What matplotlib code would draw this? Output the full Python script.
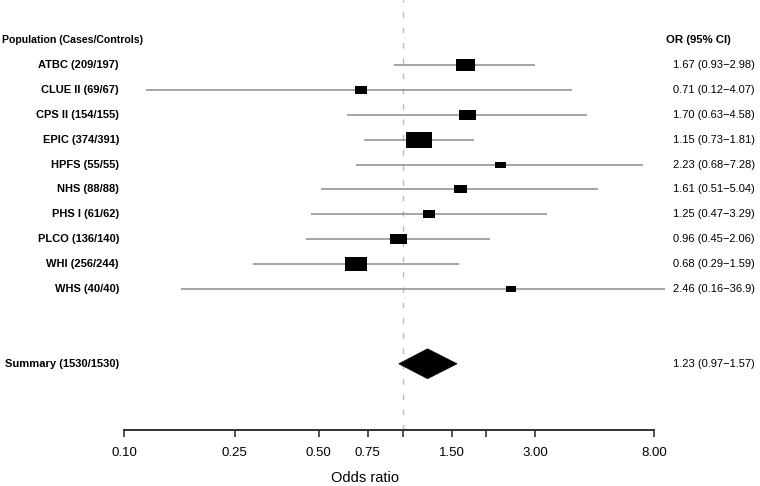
import numpy as np
import matplotlib
matplotlib.use('Agg')
import matplotlib.pyplot as plt
from matplotlib.path import Path
from matplotlib.patches import Polygon
from matplotlib.transforms import blended_transform_factory

plt.rcParams['font.family'] = ['Liberation Sans', 'DejaVu Sans']

# study data
studies = ['ATBC (209/197)', 'CLUE II (69/67)', 'CPS II (154/155)', 'EPIC (374/391)',
           'HPFS (55/55)', 'NHS (88/88)', 'PHS I (61/62)', 'PLCO (136/140)',
           'WHI (256/244)', 'WHS (40/40)']
odds = [1.67, 0.71, 1.70, 1.15, 2.23, 1.61, 1.25, 0.96, 0.68, 2.46]
lower = [0.93, 0.12, 0.63, 0.73, 0.68, 0.51, 0.47, 0.45, 0.29, 0.16]
upper = [2.98, 4.07, 4.58, 1.81, 7.28, 5.04, 3.29, 2.06, 1.59, 36.9]
weights = [1.9, 1.2, 1.7, 2.6, 1.1, 1.3, 1.2, 1.7, 2.2, 1.0]  # relative box size

summary_label = 'Summary (1530/1530)'
summary_or = 1.23
summary_lo = 0.97
summary_hi = 1.57

xticks = [0.10, 0.25, 0.50, 0.75, 1.0, 1.50, 2.0, 3.00, 8.00]
xticklabels = ['0.10', '0.25', '0.50', '0.75', '', '1.50', '', '3.00', '8.00']

W, H = 760, 486
fig = plt.figure(figsize=(W / 100, H / 100), dpi=100)

# axes spans pixel 124..665 horizontally, 0..430 vertically
ax = fig.add_axes([124 / W, (H - 430) / H, (665 - 124) / W, 430 / H])
ax.set_xscale('log')
xmax = 0.1 * 10 ** ((665 - 124) / 278.5)
ax.set_xlim(0.1, xmax)
ax.set_ylim(15.66, -1.61)

rows = np.arange(1, len(studies) + 1)
summary_row = 13

# reference line
ax.axvline(1.0, color='#bbbbbb', lw=1.0, ls=(0, (4, 7)), zorder=1)

# CI lines and boxes
box = Path([(-1, -0.63), (1, -0.63), (1, 0.63), (-1, 0.63), (-1, -0.63)],
           [Path.MOVETO, Path.LINETO, Path.LINETO, Path.LINETO, Path.CLOSEPOLY])
for r, o, lo, hi, w in zip(rows, odds, lower, upper, weights):
    ax.plot([lo, hi], [r, r], color='#8c8c8c', lw=1.1, zorder=2, solid_capstyle='butt')
    ax.plot([o], [r], marker=box, markersize=w * 10 * 0.72, color='black',
            markeredgewidth=0, zorder=3)

# summary diamond
dh = 0.6
ax.add_patch(Polygon([(summary_lo, summary_row), (summary_or, summary_row - dh),
                      (summary_hi, summary_row), (summary_or, summary_row + dh)],
                     closed=True, facecolor='black', edgecolor='black', lw=0.5, zorder=3))

# axis styling
for s in ['top', 'right', 'left']:
    ax.spines[s].set_visible(False)
ax.spines['bottom'].set_bounds(0.1, 8.0)
ax.spines['bottom'].set_linewidth(1.4)
ax.spines['bottom'].set_color('#333333')
ax.set_yticks([])
ax.xaxis.set_minor_locator(matplotlib.ticker.NullLocator())
ax.set_xticks(xticks)
ax.set_xticklabels(xticklabels, fontsize=9.5)
ax.tick_params(axis='x', length=5, width=1.2, color='#333333', pad=7)

# texts
tr = blended_transform_factory(fig.transFigure, ax.transData)
fig.text(2 / W, 0, 'Population (Cases/Controls)', transform=tr, fontsize=7.6,
         fontweight='bold', ha='left', va='center')
fig.text(666 / W, 0, 'OR (95% CI)', transform=tr, fontsize=8.2,
         fontweight='bold', ha='left', va='center')
for r, name, o, lo, hi in zip(rows, studies, odds, lower, upper):
    fig.text(119 / W, r, name, transform=tr, fontsize=8, fontweight='bold',
             ha='right', va='center')
    fig.text(673 / W, r, f'{o:.2f} ({lo:.2f}\u2212{hi:.3g})' if hi >= 10 else
             f'{o:.2f} ({lo:.2f}\u2212{hi:.2f})', transform=tr, fontsize=8,
             ha='left', va='center')
fig.text(119 / W, summary_row, summary_label, transform=tr, fontsize=8,
         fontweight='bold', ha='right', va='center')
fig.text(673 / W, summary_row,
         f'{summary_or:.2f} ({summary_lo:.2f}\u2212{summary_hi:.2f})',
         transform=tr, fontsize=8, ha='left', va='center')

fig.text(365 / W, 1 - 478 / H, 'Odds ratio', fontsize=10.5, ha='center', va='center')

fig.savefig('out.png', dpi=100)
